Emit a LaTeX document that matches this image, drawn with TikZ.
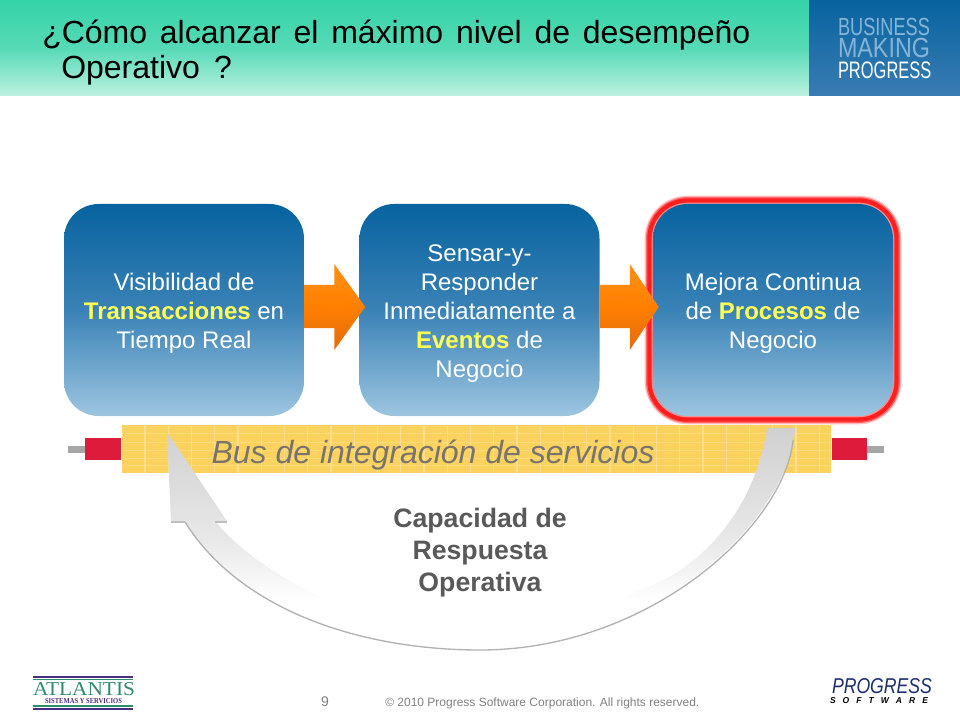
\documentclass[tikz,border=0pt]{standalone}
\usepackage{fontspec}
\setmainfont{Liberation Sans}
\newfontfamily\serifa{Liberation Serif}
\usepackage{tikz}

\definecolor{verdeA}{HTML}{35D3A8}
\definecolor{verdeB}{HTML}{56DAB6}
\definecolor{verdeC}{HTML}{BDF1E1}
\definecolor{azulA}{HTML}{07639F}
\definecolor{azulB}{HTML}{3A82B6}
\definecolor{azulC}{HTML}{9DC5E0}
\definecolor{azulLogo}{HTML}{3A7CB3}
\definecolor{azulClaro}{HTML}{86B4D6}
\definecolor{amarillo}{HTML}{FFFF55}
\definecolor{bus}{HTML}{FCD25E}
\definecolor{rejilla}{HTML}{FDE08F}
\definecolor{rojoBus}{HTML}{DE1B3A}
\definecolor{grisBus}{HTML}{A6A6A6}
\definecolor{naranjaA}{HTML}{FF8F14}
\definecolor{naranjaB}{HTML}{FF8000}
\definecolor{naranjaC}{HTML}{E26A0E}
\definecolor{textoBus}{HTML}{77736E}
\definecolor{textoCurva}{HTML}{595959}
\definecolor{textoPie}{HTML}{808080}
\definecolor{verdeLogo}{HTML}{2E8B6B}
\definecolor{moradoLogo}{HTML}{4A2E82}
\definecolor{marino}{HTML}{1A2E6E}
\definecolor{grisA}{HTML}{D0D0D0}
\definecolor{grisB}{HTML}{E8E8E8}

\pgfdeclareverticalshading{curvaGris}{100bp}{color(0bp)=(white); color(36bp)=(white); color(50bp)=(grisB); color(75bp)=(grisA); color(100bp)=(grisA)}

\newcommand{\subir}{\rule{0pt}{17.6pt}}

\tikzset{
    caja/.style={rounded corners=26pt, minimum width=180pt, minimum height=159pt, inner sep=0pt,
        top color=azulA, bottom color=azulC, middle color=azulB, text=white, align=center,
        font=\fontsize{18}{21.75}\selectfont},
    brillo/.style={preaction={draw=red!25, line width=12.5pt},
        preaction={draw=red!60, line width=10.5pt},
        preaction={draw=red!88, line width=8.5pt},
        preaction={draw=red!45, line width=2pt}},
    flecha/.style={top color=naranjaA, bottom color=naranjaC, middle color=naranjaB},
    titulo/.style={anchor=base west, inner sep=0pt, font=\fontsize{24}{28}\selectfont},
    palabra/.style={anchor=north west, inner sep=0pt, outer sep=0pt},
    pie/.style={text=textoPie, inner sep=0pt}
}

\begin{document}
\begin{tikzpicture}[x=0.75pt,y=-0.75pt]
    \useasboundingbox (0,0) rectangle (960,720);

    % Banda superior
    \path[top color=verdeA, bottom color=verdeC, middle color=verdeB] (0,0) rectangle (809,96);
    \path[top color=azulA, bottom color=azulLogo] (809,0) rectangle (960,96);
    \node[titulo] (linea1) at (42,44) {\makebox[531pt][s]{¿Cómo alcanzar el máximo nivel de desempeño}};
    \node[titulo] (linea2) at (61,79) {\makebox[128pt][s]{Operativo ?}};

    % Logotipo de la banda
    \node[palabra, text=azulClaro] (business) at (838,18) {\resizebox{69pt}{13pt}{BUSINESS}};
    \node[palabra, text=azulClaro] (making) at (838,38) {\resizebox{69pt}{14.5pt}{MAKING}};
    \node[palabra, text=white] (progress) at (838,62) {\resizebox{70pt}{12.5pt}{PROGRESS}};

    % Bus
    \node[fill=bus, minimum width=531.75pt, minimum height=36pt, inner sep=0pt] (barra) at (476.5,449) {};
    \foreach \y in {433,442,450,458,465}
        \draw[rejilla!60!bus, line width=0.5pt] (122,\y) -- (831,\y);
    \foreach \x in {0,...,29}
        \draw[rejilla, line width=0.8pt] (145+23.25*\x,425) -- (145+23.25*\x,473);
    \node[fill=rojoBus, minimum width=27pt, minimum height=16.5pt, inner sep=0pt, anchor=east] (rojoIzq) at (barra.west) {};
    \node[fill=rojoBus, minimum width=26.25pt, minimum height=16.5pt, inner sep=0pt, anchor=west] (rojoDer) at (barra.east) {};
    \node[fill=grisBus, minimum width=12.75pt, minimum height=5.25pt, inner sep=0pt, anchor=east] (grisIzq) at (rojoIzq.west) {};
    \node[fill=grisBus, minimum width=12.75pt, minimum height=5.25pt, inner sep=0pt, anchor=west] (grisDer) at (rojoDer.east) {};
    \node[text=textoBus, font=\fontsize{24}{28}\selectfont\itshape, inner sep=0pt] (busTexto) at (433,455) {Bus de integración de servicios};

    % Cajas
    \node[caja] (visibilidad) at (184,310) {\subir Visibilidad de\\\textbf{\textcolor{amarillo}{Transacciones}} en\\Tiempo Real};
    \node[caja] (sensar) at (479.5,310) {\subir Sensar-y-\\Responder\\Inmediatamente a\\\textbf{\textcolor{amarillo}{Eventos}} de\\Negocio};
    \node[caja, brillo] (mejora) at (773,310) {\subir Mejora Continua\\de \textbf{\textcolor{amarillo}{Procesos}} de\\Negocio};

    % Flechas naranjas
    \foreach \desde/\hasta in {visibilidad/sensar, sensar/mejora}
        \path[flecha] ([yshift=18.75pt]\desde.east) -- ++(30,0) -- ++(0,-21)
            -- ([xshift=4.5pt,yshift=2.25pt]\hasta.west)
            -- ([xshift=22.5pt,yshift=-30pt]\desde.east) -- ++(0,-22)
            -- ([yshift=-13.5pt]\desde.east) -- cycle;

    % Flecha curva de retorno
    \path[shade, shading=curvaGris]
        (167,432) -- (227,521) -- (215,521)
        .. controls (260,575) and (360,628) .. (480,640)
        .. controls (540,635) and (600,610) .. (640,590)
        .. controls (700,570) and (755,510) .. (767,428)
        -- (795,428)
        .. controls (790,520) and (650,650) .. (480,650)
        .. controls (360,650) and (240,610) .. (185,522)
        -- (171,522) -- cycle;
    \draw[black!30, line width=1pt] (793,440) .. controls (785,525) and (650,650) .. (480,650)
        .. controls (360,650) and (240,610) .. (185,522);
    \draw[black!25, line width=1.2pt] (171,522) -- (185,522) (215,522) -- (227,522);

    \node[text=textoCurva, align=center, inner sep=0pt, font=\fontsize{20}{24}\bfseries\selectfont] (capacidad) at (480,553) {Capacidad de\\Respuesta\\Operativa};

    % Pie
    \node[pie, font=\fontsize{10.5}{12}\selectfont] (pagina) at (325,702) {9};
    \node[pie, anchor=west, font=\fontsize{9}{11}\selectfont] (derechos) at (385,703) {© 2010 Progress Software Corporation. All rights reserved.};

    % Logotipo Atlantis
    \draw[moradoLogo, line width=1.3pt] (33,677) -- (133,677) (33,709) -- (133,709);
    \draw[verdeLogo, line width=1.3pt] (33,679.5) -- (133,679.5) (33,706) -- (133,706);
    \node[palabra, text=verdeLogo] (atlantis) at (33,682) {\resizebox{76.5pt}{9.75pt}{\serifa ATLANTIS}};
    \node[palabra, text=moradoLogo] (sistemas) at (45,698) {\resizebox{57.75pt}{3.75pt}{\serifa\bfseries SISTEMAS Y SERVICIOS}};

    % Logotipo Progress
    \node[palabra, text=marino] (progreso) at (832,678) {\resizebox{75pt}{11.25pt}{\itshape PROGRESS}};
    \node[palabra, text=black] (software) at (830,697) {\resizebox{73.5pt}{4.5pt}{\bfseries\itshape S\ \ \ O\ \ \ F\ \ \ T\ \ \ W\ \ \ A\ \ \ R\ \ \ E}};
\end{tikzpicture}
\end{document}
